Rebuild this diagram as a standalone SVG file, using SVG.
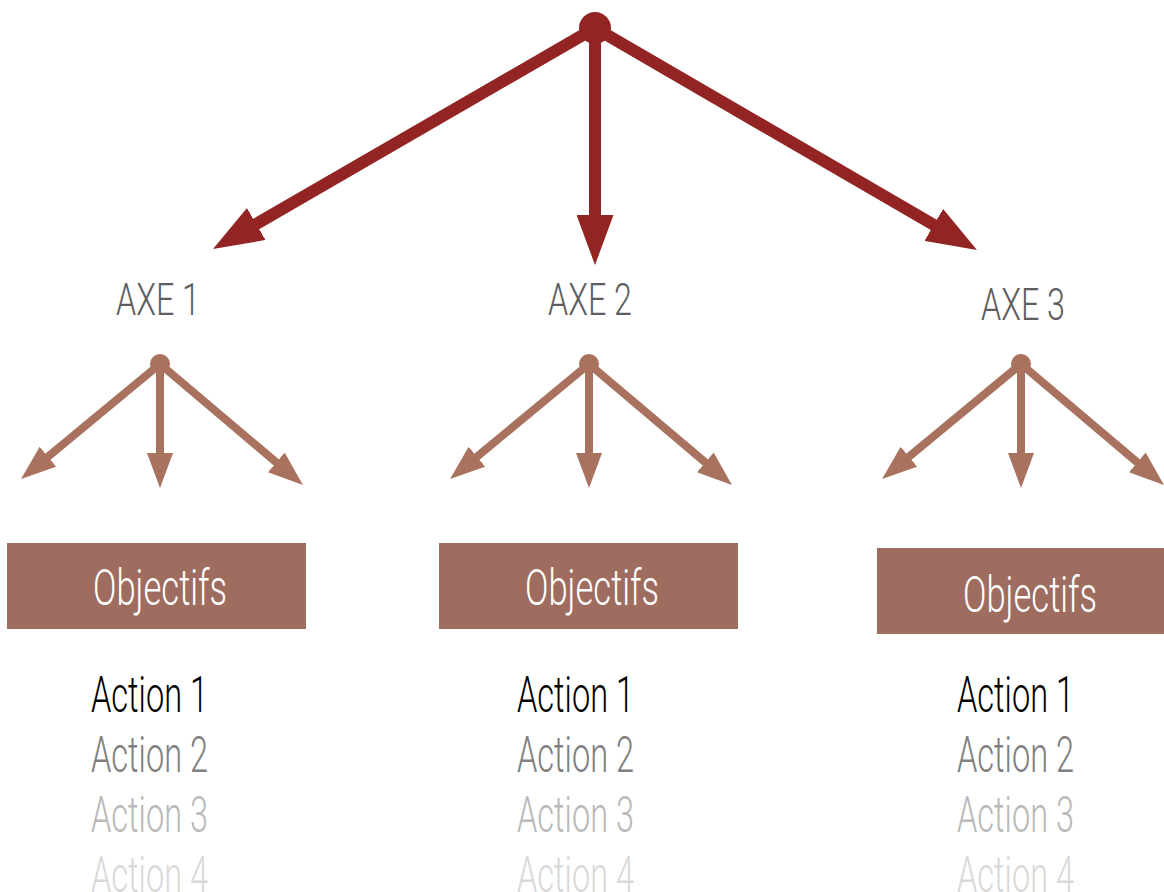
<svg xmlns="http://www.w3.org/2000/svg" width="1164" height="892" viewBox="0 0 1164 892">
<style>
.big{stroke:#922524;stroke-width:12;fill:none}
.small{stroke:#a8725f;stroke-width:8;fill:none}
.t{font-family:Roboto,"Liberation Sans",sans-serif;font-weight:300}
.axe{font-size:44px;fill:#5e5e5e}
.obj{font-size:50px;fill:#ffffff}
.act{font-size:50px}
.box{fill:#9e6d5f}
</style>
<defs>
<marker id="hb" markerUnits="userSpaceOnUse" markerWidth="50" markerHeight="37" refX="10" refY="18.5" orient="auto" viewBox="0 0 50 37"><path d="M0,0 L50,18.5 L0,37 z" fill="#922524"/></marker>
<marker id="hs" markerUnits="userSpaceOnUse" markerWidth="35" markerHeight="26" refX="7" refY="13" orient="auto" viewBox="0 0 35 26"><path d="M0,0 L35,13 L0,26 z" fill="#a8725f"/></marker>
</defs>
<rect width="1164" height="892" fill="#ffffff"/>
<g id="connectors">
<circle cx="595" cy="28" r="16" fill="#922524"/>
<line class="big" x1="595" y1="28" x2="247.6" y2="229" marker-end="url(#hb)"/>
<line class="big" x1="595" y1="28" x2="595" y2="225" marker-end="url(#hb)"/>
<line class="big" x1="595" y1="28" x2="942.4" y2="229.9" marker-end="url(#hb)"/>
<g transform="translate(160,364)">
<circle r="10" fill="#a8725f"/>
<line class="small" x1="0" y1="0" x2="-117.4" y2="97.2" marker-end="url(#hs)"/>
<line class="small" x1="0" y1="0" x2="0" y2="96" marker-end="url(#hs)"/>
<line class="small" x1="0" y1="0" x2="121.6" y2="102.9" marker-end="url(#hs)"/>
</g>
<g transform="translate(589,364)">
<circle r="10" fill="#a8725f"/>
<line class="small" x1="0" y1="0" x2="-117.4" y2="97.2" marker-end="url(#hs)"/>
<line class="small" x1="0" y1="0" x2="0" y2="96" marker-end="url(#hs)"/>
<line class="small" x1="0" y1="0" x2="121.6" y2="102.9" marker-end="url(#hs)"/>
</g>
<g transform="translate(1021,364)">
<circle r="10" fill="#a8725f"/>
<line class="small" x1="0" y1="0" x2="-117.4" y2="97.2" marker-end="url(#hs)"/>
<line class="small" x1="0" y1="0" x2="0" y2="96" marker-end="url(#hs)"/>
<line class="small" x1="0" y1="0" x2="121.6" y2="102.9" marker-end="url(#hs)"/>
</g>
</g>
<g id="axe1">
<text class="t axe" x="116" y="315" textLength="84" lengthAdjust="spacingAndGlyphs">AXE 1</text>
<rect class="box" x="7" y="543" width="299" height="86"/>
<text class="t obj" x="93" y="605" textLength="134" lengthAdjust="spacingAndGlyphs">Objectifs</text>
<text class="t act" x="91" y="712" fill="#000000" textLength="117" lengthAdjust="spacingAndGlyphs">Action 1</text>
<text class="t act" x="91" y="772" fill="#808080" textLength="117" lengthAdjust="spacingAndGlyphs">Action 2</text>
<text class="t act" x="91" y="832" fill="#b9b9b9" textLength="117" lengthAdjust="spacingAndGlyphs">Action 3</text>
<text class="t act" x="91" y="892" fill="#d9d9d9" textLength="117" lengthAdjust="spacingAndGlyphs">Action 4</text>
</g>
<g id="axe2">
<text class="t axe" x="548" y="315" textLength="84" lengthAdjust="spacingAndGlyphs">AXE 2</text>
<rect class="box" x="439" y="543" width="299" height="86"/>
<text class="t obj" x="525" y="605" textLength="134" lengthAdjust="spacingAndGlyphs">Objectifs</text>
<text class="t act" x="517" y="712" fill="#000000" textLength="117" lengthAdjust="spacingAndGlyphs">Action 1</text>
<text class="t act" x="517" y="772" fill="#808080" textLength="117" lengthAdjust="spacingAndGlyphs">Action 2</text>
<text class="t act" x="517" y="832" fill="#b9b9b9" textLength="117" lengthAdjust="spacingAndGlyphs">Action 3</text>
<text class="t act" x="517" y="892" fill="#d9d9d9" textLength="117" lengthAdjust="spacingAndGlyphs">Action 4</text>
</g>
<g id="axe3">
<text class="t axe" x="981" y="320" textLength="84" lengthAdjust="spacingAndGlyphs">AXE 3</text>
<rect class="box" x="877" y="548" width="287" height="86"/>
<text class="t obj" x="963" y="612" textLength="134" lengthAdjust="spacingAndGlyphs">Objectifs</text>
<text class="t act" x="957" y="712" fill="#000000" textLength="117" lengthAdjust="spacingAndGlyphs">Action 1</text>
<text class="t act" x="957" y="772" fill="#808080" textLength="117" lengthAdjust="spacingAndGlyphs">Action 2</text>
<text class="t act" x="957" y="832" fill="#b9b9b9" textLength="117" lengthAdjust="spacingAndGlyphs">Action 3</text>
<text class="t act" x="957" y="892" fill="#d9d9d9" textLength="117" lengthAdjust="spacingAndGlyphs">Action 4</text>
</g>
</svg>
